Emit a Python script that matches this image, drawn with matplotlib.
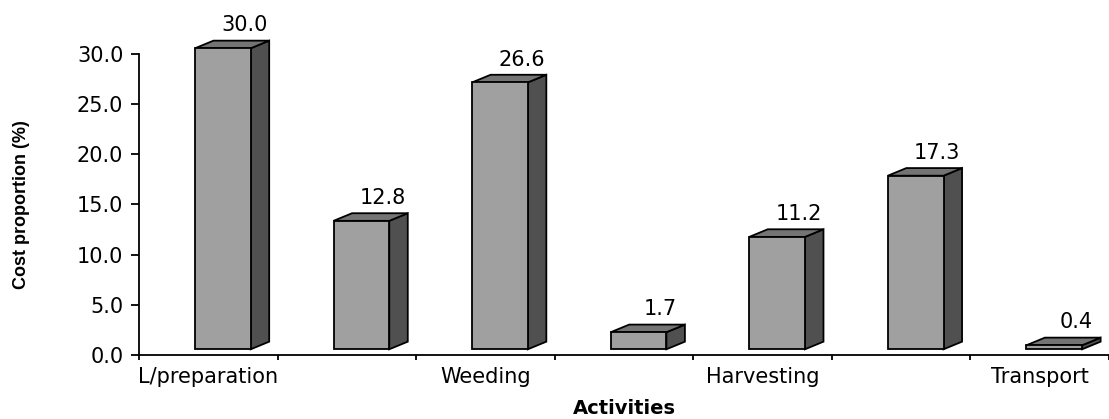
import matplotlib
matplotlib.use("Agg")
import matplotlib.pyplot as plt
from matplotlib.patches import Polygon
from matplotlib.ticker import FormatStrFormatter
import numpy as np

# ---- data ----
tick_labels = ["L/preparation", "", "Weeding", "", "Harvesting", "", "Transport"]
values = [30.0, 12.8, 26.6, 1.7, 11.2, 17.3, 0.4]
y_ticks = [0, 5, 10, 15, 20, 25, 30]
y_label = "Cost proportion (%)"
x_label = "Activities"

# ---- style ----
FRONT = "#a0a0a0"
TOP = "#747474"
SIDE = "#505050"
EDGE = "#000000"
LW = 1.3

W, H = 1109, 419
fig = plt.figure(figsize=(W / 100, H / 100), dpi=100)
ax = fig.add_axes([139 / W, 64 / H, 970 / W, 301 / H])
n = len(values)
ax.set_xlim(-0.5, n - 0.5)
ax.set_ylim(min(y_ticks), max(y_ticks))

x = np.arange(n)
front_off = -0.096     # left edge of front face relative to category centre
front_w = 0.402        # width of front face
base = 0.57            # lift of bar floor
dx, dy = 0.1335, 0.76  # depth offset (x in category units, y in data units)

ax.bar(x + front_off, values, width=front_w, bottom=base, align="edge",
       color=FRONT, edgecolor=EDGE, linewidth=LW, clip_on=False, zorder=3)

for xi, v in zip(x, values):
    xl = xi + front_off
    xr = xl + front_w
    top = v + base
    side = Polygon([(xr, base), (xr + dx, base + dy), (xr + dx, top + dy), (xr, top)],
                   closed=True, facecolor=SIDE, edgecolor=EDGE, linewidth=LW,
                   clip_on=False, zorder=2)
    lid = Polygon([(xl, top), (xl + dx, top + dy), (xr + dx, top + dy), (xr, top)],
                  closed=True, facecolor=TOP, edgecolor=EDGE, linewidth=LW,
                  clip_on=False, zorder=2)
    ax.add_patch(side)
    ax.add_patch(lid)
    ax.annotate(f"{v:.1f}", xy=(xi + 0.26, v), xytext=(0, 20.6),
                textcoords="offset points", ha="center", va="center",
                fontsize=15, color="black", annotation_clip=False)

# axes styling
for s in ("top", "right"):
    ax.spines[s].set_visible(False)
for s in ("left", "bottom"):
    ax.spines[s].set_linewidth(LW)
    ax.spines[s].set_color("black")

ax.set_yticks(y_ticks)
ax.yaxis.set_major_formatter(FormatStrFormatter("%.1f"))
ax.tick_params(axis="y", direction="out", length=5.8, width=LW, pad=5.5,
               labelsize=15)

ax.set_xticks(np.arange(-0.5, n, 1.0))
ax.set_xticklabels([])
ax.tick_params(axis="x", which="major", direction="out", length=3.8, width=LW)
ax.set_xticks(x, minor=True)
ax.set_xticklabels(tick_labels, minor=True)
ax.tick_params(axis="x", which="minor", length=0, pad=8.5, labelsize=15)

fig.text(22 / W, 1 - 204.5 / H, y_label, rotation=90, ha="center", va="center",
         fontsize=13, fontweight="bold", family=["Liberation Sans", "DejaVu Sans"])
fig.text(624 / W, 1 - 408 / H, x_label, ha="center", va="center",
         fontsize=14, fontweight="bold")

fig.savefig("out.png", dpi=100, facecolor="white")
